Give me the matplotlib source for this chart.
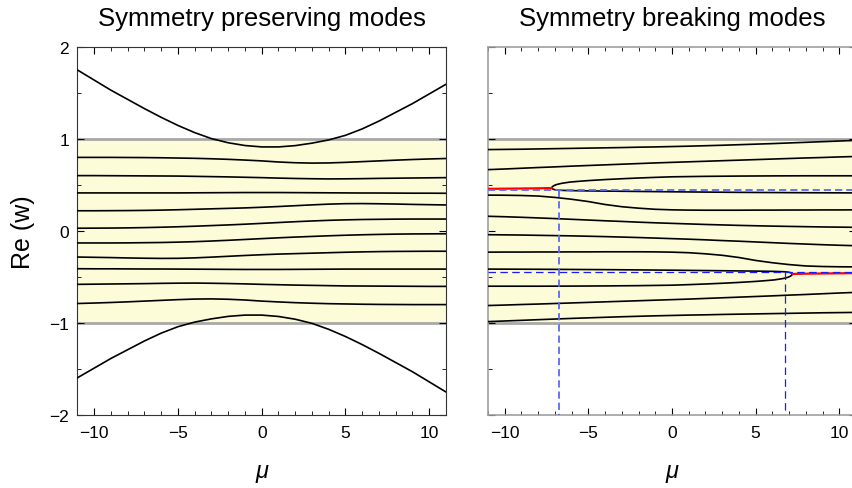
import matplotlib.pyplot as plt
from matplotlib.ticker import MultipleLocator

plt.rcParams['font.family'] = ['Liberation Sans', 'DejaVu Sans']

# common mu grid
mu = [-11, -10, -9, -8, -7, -6, -5, -4, -3, -2, -1, 0, 1, 2, 3, 4, 5, 6, 7, 8, 9, 10, 11]

# ---- symmetry preserving modes (left panel) ----
outer_top = [1.75, 1.64, 1.53, 1.43, 1.33, 1.235, 1.147, 1.069, 1.004, 0.959, 0.929, 0.914,
             0.914, 0.928, 0.955, 0.99, 1.04, 1.11, 1.195, 1.29, 1.385, 1.49, 1.595]
outer_bot = [-1.595, -1.49, -1.385, -1.29, -1.195, -1.11, -1.04, -0.99, -0.955, -0.928, -0.914, -0.914,
             -0.929, -0.959, -1.004, -1.069, -1.147, -1.235, -1.33, -1.43, -1.53, -1.64, -1.75]
sp1 = [0.800, 0.800, 0.800, 0.799, 0.798, 0.796, 0.793, 0.790, 0.785, 0.779, 0.771, 0.762,
       0.750, 0.742, 0.738, 0.740, 0.746, 0.754, 0.762, 0.770, 0.777, 0.783, 0.788]
sp2 = [0.602, 0.602, 0.601, 0.600, 0.599, 0.598, 0.597, 0.594, 0.591, 0.588, 0.584, 0.580,
       0.575, 0.571, 0.568, 0.566, 0.567, 0.569, 0.572, 0.574, 0.576, 0.578, 0.580]
sp3 = [0.414, 0.414, 0.414, 0.414, 0.414, 0.414, 0.414, 0.415, 0.416, 0.417, 0.418, 0.418,
       0.418, 0.417, 0.416, 0.415, 0.414, 0.413, 0.413, 0.412, 0.411, 0.411, 0.410]
sp4 = [0.220, 0.220, 0.221, 0.222, 0.224, 0.227, 0.231, 0.236, 0.241, 0.246, 0.251, 0.258,
       0.266, 0.275, 0.284, 0.292, 0.297, 0.298, 0.296, 0.293, 0.289, 0.286, 0.283]
sp5 = [0.030, 0.031, 0.032, 0.034, 0.037, 0.041, 0.046, 0.052, 0.059, 0.066, 0.074, 0.083,
       0.092, 0.101, 0.109, 0.116, 0.121, 0.125, 0.127, 0.129, 0.130, 0.130, 0.130]
sp6 = [-0.130, -0.130, -0.130, -0.129, -0.127, -0.125, -0.121, -0.116, -0.109, -0.101, -0.092, -0.083,
       -0.074, -0.066, -0.059, -0.052, -0.046, -0.041, -0.037, -0.034, -0.032, -0.031, -0.030]
sp7 = [-0.283, -0.286, -0.289, -0.293, -0.296, -0.298, -0.297, -0.292, -0.284, -0.275, -0.266, -0.258,
       -0.251, -0.246, -0.241, -0.236, -0.231, -0.227, -0.224, -0.222, -0.221, -0.220, -0.220]
sp8 = [-0.410, -0.411, -0.411, -0.412, -0.413, -0.413, -0.414, -0.415, -0.416, -0.417, -0.418, -0.418,
       -0.418, -0.417, -0.416, -0.415, -0.414, -0.414, -0.414, -0.414, -0.414, -0.414, -0.414]
sp9 = [-0.580, -0.578, -0.576, -0.574, -0.572, -0.569, -0.567, -0.566, -0.568, -0.571, -0.575, -0.580,
       -0.584, -0.588, -0.591, -0.594, -0.597, -0.598, -0.599, -0.600, -0.601, -0.602, -0.602]
sp10 = [-0.788, -0.783, -0.777, -0.770, -0.762, -0.754, -0.746, -0.740, -0.738, -0.742, -0.750, -0.762,
        -0.771, -0.779, -0.785, -0.790, -0.793, -0.796, -0.798, -0.799, -0.800, -0.800, -0.800]

# ---- symmetry breaking modes (right panel) ----
sbA = [0.885, 0.887, 0.889, 0.892, 0.895, 0.898, 0.901, 0.904, 0.907, 0.911, 0.914, 0.918,
       0.922, 0.927, 0.932, 0.938, 0.944, 0.950, 0.957, 0.964, 0.971, 0.978, 0.985]
sbB = [0.667, 0.674, 0.682, 0.690, 0.697, 0.705, 0.712, 0.719, 0.726, 0.733, 0.740, 0.746,
       0.752, 0.758, 0.764, 0.770, 0.776, 0.782, 0.788, 0.794, 0.799, 0.805, 0.810]
sbE = [0.390, 0.389, 0.386, 0.380, 0.365, 0.345, 0.320, 0.288, 0.264, 0.248, 0.236, 0.230,
       0.227, 0.226, 0.226, 0.226, 0.227, 0.227, 0.228, 0.228, 0.229, 0.229, 0.230]
sbF = [0.160, 0.155, 0.149, 0.142, 0.135, 0.127, 0.119, 0.111, 0.104, 0.096, 0.089, 0.083,
       0.077, 0.071, 0.066, 0.061, 0.057, 0.053, 0.050, 0.047, 0.044, 0.042, 0.040]
sbG = [-0.040, -0.042, -0.044, -0.047, -0.050, -0.053, -0.057, -0.061, -0.066, -0.071, -0.077, -0.083,
       -0.089, -0.096, -0.104, -0.111, -0.119, -0.127, -0.135, -0.142, -0.149, -0.155, -0.160]
sbH = [-0.230, -0.229, -0.229, -0.228, -0.228, -0.227, -0.227, -0.226, -0.226, -0.226, -0.227, -0.230,
       -0.236, -0.248, -0.264, -0.288, -0.320, -0.345, -0.365, -0.380, -0.386, -0.389, -0.390]
sbI = [-0.810, -0.805, -0.799, -0.794, -0.788, -0.782, -0.776, -0.770, -0.764, -0.758, -0.752, -0.746,
       -0.740, -0.733, -0.726, -0.719, -0.712, -0.705, -0.697, -0.690, -0.682, -0.674, -0.667]
sbJ = [-0.985, -0.978, -0.971, -0.964, -0.957, -0.950, -0.944, -0.938, -0.932, -0.927, -0.922, -0.918,
       -0.914, -0.911, -0.907, -0.904, -0.901, -0.898, -0.895, -0.892, -0.889, -0.887, -0.885]

# upper bifurcation (fold at mu ~ -7.2)
red_up_x = [-11, -10, -9, -8, -7.2]
red_up_y = [0.458, 0.460, 0.462, 0.464, 0.467]
bifC_x = [-7.2, -7.15, -7.05, -6.9, -6.6, -6.1, -5.5, -5, -4, -3, -2, -1, 0, 2, 4, 6, 8, 11]
bifC_y = [0.467, 0.482, 0.494, 0.505, 0.518, 0.532, 0.541, 0.548, 0.559, 0.568, 0.576, 0.583,
          0.589, 0.594, 0.597, 0.599, 0.600, 0.600]
bifD_x = [-7.2, -7.15, -7.05, -6.9, -6.6, -6.1, -5, -4, -2, 0, 2, 4, 6, 8, 11]
bifD_y = [0.467, 0.458, 0.451, 0.446, 0.442, 0.439, 0.436, 0.434, 0.430, 0.426, 0.423, 0.420,
          0.418, 0.416, 0.414]

# lower bifurcation (fold at mu ~ 7.2)
red_lo_x = [7.2, 8, 9, 10, 11]
red_lo_y = [-0.467, -0.464, -0.462, -0.460, -0.458]
bifK_x = [-11, -8, -6, -4, -2, 0, 1, 2, 3, 4, 5, 5.5, 6.1, 6.6, 6.9, 7.05, 7.15, 7.2]
bifK_y = [-0.600, -0.600, -0.599, -0.597, -0.594, -0.589, -0.583, -0.576, -0.568, -0.559, -0.548,
          -0.541, -0.532, -0.518, -0.505, -0.494, -0.482, -0.467]
bifL_x = [-11, -8, -6, -4, -2, 0, 2, 4, 5, 6.1, 6.6, 6.9, 7.05, 7.15, 7.2]
bifL_y = [-0.414, -0.416, -0.418, -0.420, -0.423, -0.426, -0.430, -0.434, -0.436, -0.439, -0.442,
          -0.446, -0.451, -0.458, -0.467]

# guide lines
guide_up_y = 0.45
guide_up_x = -6.75
guide_lo_y = -0.45
guide_lo_x = 6.75

W, H = 853, 489
fig = plt.figure(figsize=(W / 100, H / 100), dpi=100)
ax1 = fig.add_axes([77.5 / W, 1 - 416 / H, 368.5 / W, 368 / H])
ax2 = fig.add_axes([488 / W, 1 - 416 / H, 368 / W, 368 / H])

band = '#fcfcd9'
for ax in (ax1, ax2):
    ax.axhspan(-1, 1, color=band, lw=0, zorder=0)
    ax.axhline(1, color='#a8a8a8', lw=2, zorder=1)
    ax.axhline(-1, color='#a8a8a8', lw=2, zorder=1)
    ax.set_xlim(-11, 11)
    ax.set_ylim(-2, 2)
    ax.xaxis.set_major_locator(MultipleLocator(5))
    ax.xaxis.set_minor_locator(MultipleLocator(1))
    ax.yaxis.set_major_locator(MultipleLocator(1))
    ax.yaxis.set_minor_locator(MultipleLocator(0.5))
    ax.tick_params(which='both', direction='in', top=True, right=True, labelsize=12.5)
    ax.tick_params(which='major', length=5, width=0.8)
    ax.tick_params(which='minor', length=3, width=0.6)
    ax.tick_params(axis='x', pad=7)
    ax.set_xlabel('μ', fontsize=17, style='italic', labelpad=14)

# left panel
for ys in (outer_top, outer_bot, sp1, sp2, sp3, sp4, sp5, sp6, sp7, sp8, sp9, sp10):
    ax1.plot(mu, ys, color='black', lw=1.2, zorder=3)
ax1.set_title('Symmetry preserving modes', fontsize=18.5, pad=16)
ax1.set_ylabel('Re (w)', fontsize=18, labelpad=10)
ax1.tick_params(axis='y', pad=6)
for sp in ax1.spines.values():
    sp.set_color('#333333')
    sp.set_linewidth(0.8)

# right panel
for ys in (sbA, sbB, sbE, sbF, sbG, sbH, sbI, sbJ):
    ax2.plot(mu, ys, color='black', lw=1.2, zorder=3)
for xs, ys in ((bifC_x, bifC_y), (bifD_x, bifD_y), (bifK_x, bifK_y), (bifL_x, bifL_y)):
    ax2.plot(xs, ys, color='black', lw=1.2, zorder=3)
ax2.plot(red_up_x, red_up_y, color='red', lw=1.6, zorder=4)
ax2.plot(red_lo_x, red_lo_y, color='red', lw=1.6, zorder=4)

ax2.axhline(guide_up_y, color='#5a6af0', lw=1.3, dashes=(4, 2.2), zorder=5)
ax2.plot([guide_up_x, guide_up_x], [guide_up_y, -2], color='#5a6af0', lw=1.3, dashes=(4, 2.2), zorder=5)
ax2.axhline(guide_lo_y, color='#1a1aff', lw=0.9, dashes=(6, 3.5), zorder=5)
ax2.plot([guide_lo_x, guide_lo_x], [guide_lo_y, -2], color='#1a1aff', lw=0.9, dashes=(6, 3.5), zorder=5)

ax2.set_title('Symmetry breaking modes', fontsize=18.5, pad=16)
ax2.tick_params(axis='y', labelleft=False)
for sp in ax2.spines.values():
    sp.set_color('#a0a0a0')
    sp.set_linewidth(1.2)

fig.savefig('out.png', dpi=100)
